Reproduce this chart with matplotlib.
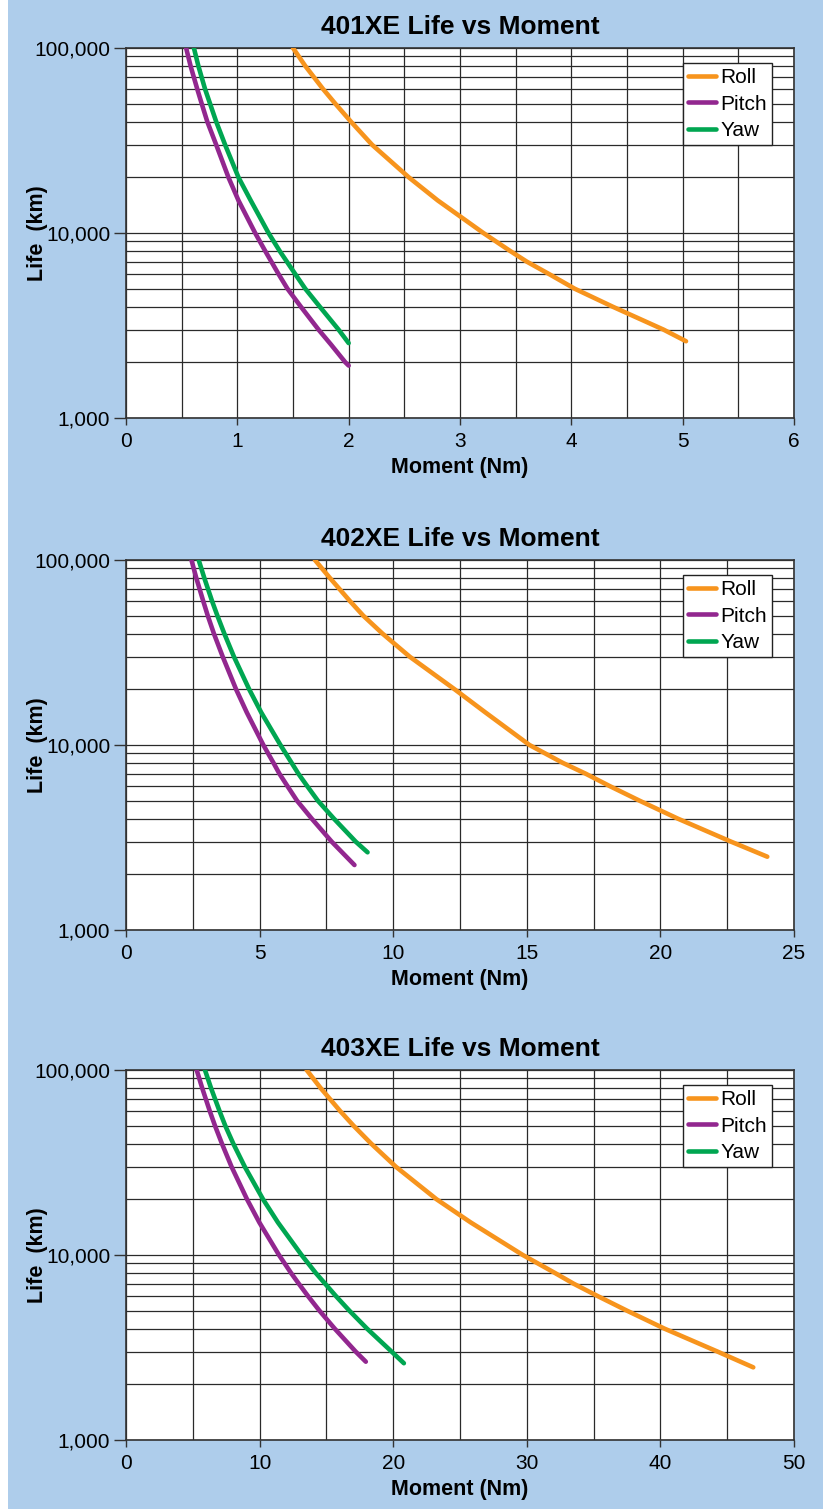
import matplotlib
matplotlib.use('Agg')
import matplotlib.pyplot as plt
from matplotlib.patches import Rectangle
from matplotlib.ticker import MultipleLocator, LogLocator, FuncFormatter, NullFormatter

plt.rcParams['font.family'] = ['Liberation Sans', 'DejaVu Sans']

# ---- data (Moment in Nm, Life in km) ----
titles = ['401XE Life vs Moment', '402XE Life vs Moment', '403XE Life vs Moment']
x_max = [6, 25, 50]
x_step = [1, 5, 10]

# 401XE
roll_x1 = [1.50, 1.61, 1.77, 1.88, 2.02, 2.21, 2.54, 2.80, 3.21, 3.45, 3.60, 3.80, 4.03, 4.37, 4.83, 5.03]
roll_y1 = [100000, 80000, 60000, 50000, 40000, 30000, 20000, 15000, 10000, 8000, 7000, 6000, 5000, 4000, 3000, 2600]
pitch_x1 = [0.54, 0.58, 0.64, 0.68, 0.73, 0.81, 0.92, 1.01, 1.16, 1.25, 1.37, 1.45, 1.57, 1.73, 1.84, 1.97, 2.00]
pitch_y1 = [100000, 80000, 60000, 50000, 40000, 30000, 20000, 15000, 10000, 8000, 6000, 5000, 4000, 3000, 2500, 2000, 1920]
yaw_x1 = [0.61, 0.65, 0.71, 0.755, 0.81, 0.89, 1.01, 1.12, 1.28, 1.38, 1.52, 1.61, 1.74, 1.91, 2.00]
yaw_y1 = [100000, 80000, 60000, 50000, 40000, 30000, 20000, 15000, 10000, 8000, 6000, 5000, 4000, 3000, 2540]

# 402XE
roll_x2 = [7.07, 7.63, 8.38, 8.88, 9.60, 10.62, 12.30, 13.45, 15.10, 16.35, 17.20, 18.10, 19.22, 20.65, 22.65, 24.00]
roll_y2 = [100000, 80000, 60000, 50000, 40000, 30000, 20000, 15000, 10000, 8000, 7000, 6000, 5000, 4000, 3000, 2490]
pitch_x2 = [2.45, 2.63, 2.89, 3.06, 3.29, 3.62, 4.12, 4.52, 5.14, 5.52, 5.74, 6.04, 6.40, 6.95, 7.70, 8.55]
pitch_y2 = [100000, 80000, 60000, 50000, 40000, 30000, 20000, 15000, 10000, 8000, 7000, 6000, 5000, 4000, 3000, 2245]
yaw_x2 = [2.72, 2.93, 3.22, 3.42, 3.68, 4.04, 4.61, 5.06, 5.78, 6.20, 6.45, 6.78, 7.18, 7.78, 8.60, 9.04]
yaw_y2 = [100000, 80000, 60000, 50000, 40000, 30000, 20000, 15000, 10000, 8000, 7000, 6000, 5000, 4000, 3000, 2630]

# 403XE
roll_x3 = [13.52, 14.56, 16.03, 17.03, 18.35, 20.20, 23.25, 25.80, 29.70, 32.10, 33.50, 35.30, 37.50, 40.30, 44.30, 46.95]
roll_y3 = [100000, 80000, 60000, 50000, 40000, 30000, 20000, 15000, 10000, 8000, 7000, 6000, 5000, 4000, 3000, 2470]
pitch_x3 = [5.29, 5.70, 6.27, 6.66, 7.18, 7.90, 9.06, 9.98, 11.45, 12.35, 12.93, 13.62, 14.48, 15.62, 17.20, 17.95]
pitch_y3 = [100000, 80000, 60000, 50000, 40000, 30000, 20000, 15000, 10000, 8000, 7000, 6000, 5000, 4000, 3000, 2650]
yaw_x3 = [5.91, 6.36, 7.00, 7.43, 8.03, 8.89, 10.26, 11.37, 13.14, 14.20, 14.90, 15.71, 16.72, 18.04, 19.89, 20.80]
yaw_y3 = [100000, 80000, 60000, 50000, 40000, 30000, 20000, 15000, 10000, 8000, 7000, 6000, 5000, 4000, 3000, 2600]

series = [
    [(roll_x1, roll_y1), (pitch_x1, pitch_y1), (yaw_x1, yaw_y1)],
    [(roll_x2, roll_y2), (pitch_x2, pitch_y2), (yaw_x2, yaw_y2)],
    [(roll_x3, roll_y3), (pitch_x3, pitch_y3), (yaw_x3, yaw_y3)],
]
names = ['Roll', 'Pitch', 'Yaw']
colors = ['#f7941d', '#92278f', '#00a651']

W, H = 823, 1509
BLUE = '#aecdeb'
GRID = '#2a2a2a'

fig = plt.figure(figsize=(W / 100, H / 100), dpi=100, facecolor='white')
fig.patches.append(Rectangle((8 / W, 0), 1, 1, transform=fig.transFigure,
                             facecolor=BLUE, edgecolor='none', zorder=-10))

# axes boxes in pixels (top, bottom); left/right are the same for all
tops = [48, 560, 1070]
bottoms = [418, 930, 1440]
left, right = 126, 794

for i in range(3):
    ax = fig.add_axes([left / W, 1 - bottoms[i] / H, (right - left) / W,
                       (bottoms[i] - tops[i]) / H])
    ax.set_facecolor('white')
    for (xs, ys), name, c in zip(series[i], names, colors):
        ax.plot(xs, ys, color=c, lw=3.3, label=name, solid_capstyle='round',
                solid_joinstyle='round', zorder=3)

    ax.set_yscale('log')
    ax.set_ylim(1000, 100000)
    ax.set_xlim(0, x_max[i])
    ax.xaxis.set_major_locator(MultipleLocator(x_step[i]))
    ax.xaxis.set_minor_locator(MultipleLocator(x_step[i] / 2))
    ax.yaxis.set_major_locator(LogLocator(base=10, numticks=5))
    ax.yaxis.set_minor_locator(LogLocator(base=10, subs=range(2, 10), numticks=20))
    ax.yaxis.set_major_formatter(FuncFormatter(lambda v, p: f'{v:,.0f}'))
    ax.yaxis.set_minor_formatter(NullFormatter())

    ax.grid(which='both', color=GRID, lw=0.9)
    ax.set_axisbelow(True)
    ax.tick_params(axis='y', which='major', length=8.4, width=1, pad=3,
                   labelsize=15, color='#333')
    ax.tick_params(axis='x', which='major', length=5, width=1, pad=5,
                   labelsize=15, color='#333')
    ax.tick_params(which='minor', length=0)
    for s in ax.spines.values():
        s.set_color('#333')
        s.set_linewidth(1.2)

    ax.set_title(titles[i], fontsize=19, fontweight='bold', pad=10)
    ax.set_xlabel('Moment (Nm)', fontsize=15.5, fontweight='bold', va='center')
    ax.xaxis.set_label_coords(0.5, -50 / (bottoms[i] - tops[i]))
    ax.set_ylabel('Life  (km)', fontsize=15.5, fontweight='bold', va='center')
    ax.yaxis.set_label_coords(-(left - 38) / (right - left), 0.5)

    leg = ax.legend(loc='upper right', bbox_to_anchor=(0.967, 0.9595),
                    borderaxespad=0, fontsize=15, handlelength=1.3,
                    handletextpad=0.22, borderpad=0.25, labelspacing=0.36,
                    fancybox=False, framealpha=1, edgecolor='#222')
    leg.get_frame().set_linewidth(1.0)

fig.savefig('out.png', dpi=100)
